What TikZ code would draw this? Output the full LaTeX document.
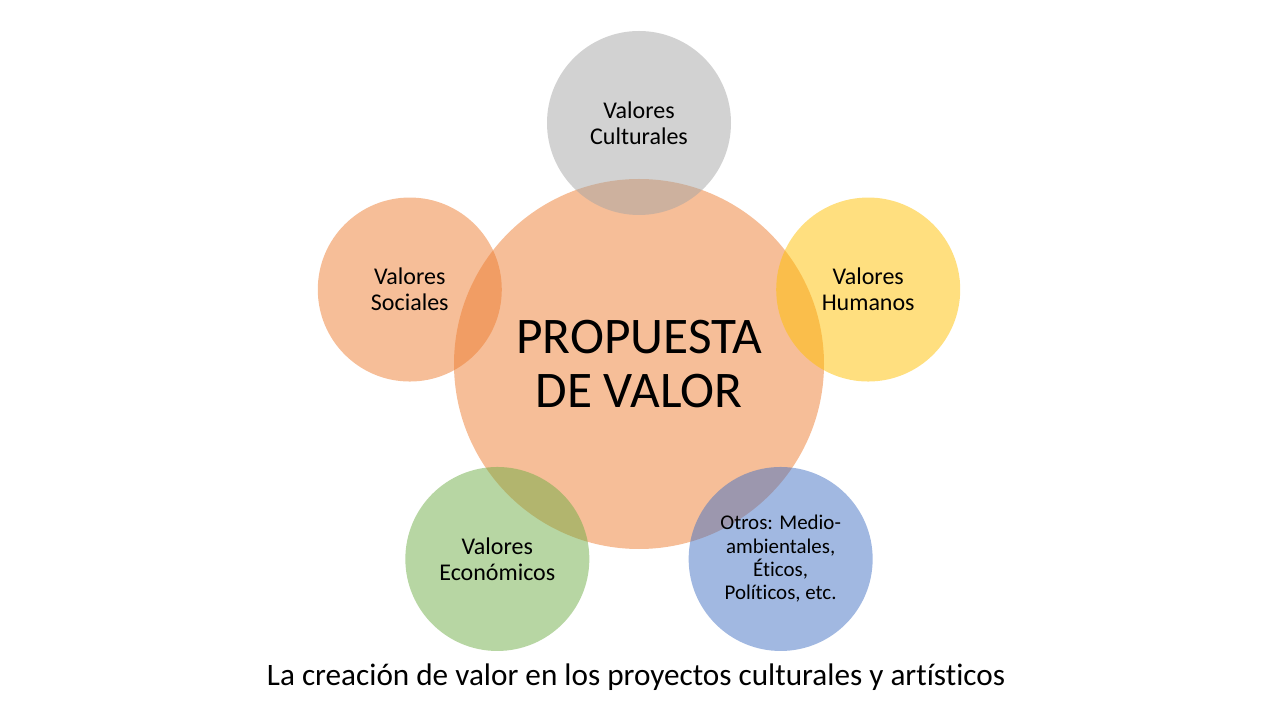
\documentclass[tikz,border=0pt]{standalone}
\usepackage{fontspec}
\setmainfont{Carlito}[Ligatures={NoCommon,NoContextual}]
\definecolor{naranja}{HTML}{ED7D31}
\definecolor{gris}{HTML}{A5A5A5}
\definecolor{amarillo}{HTML}{FFC000}
\definecolor{verde}{HTML}{70AD47}
\definecolor{azul}{HTML}{4472C4}
\begin{document}
\begin{tikzpicture}[x=0.75pt,y=0.75pt,
    valor/.style={circle,inner sep=0pt,minimum size=138pt,fill opacity=0.5,
      text opacity=1,align=center,font=\fontsize{18}{19.8}\selectfont}]
  \useasboundingbox (-639,364) rectangle (641,-356);
  \node (prop) [circle,fill=naranja,fill opacity=0.5,text opacity=1,
    minimum size=277.5pt,align=center,font=\fontsize{38.5}{41}\selectfont]
    {PROPUESTA\\DE VALOR};
  \node (cult) [valor,fill=gris] at (90:241) {Valores\\Culturales};
  \node (soc) [valor,fill=naranja] at (162:241) {Valores\\Sociales};
  \node (hum) [valor,fill=amarillo] at (18:241) {Valores\\Humanos};
  \node (eco) [valor,fill=verde] at (234:241) {Valores\\Económicos};
  \node (otros) [valor,fill=azul,font=\fontsize{15.7}{17.5}\selectfont] at (306:241)
    {Otros: Medio-\\ambientales,\\Éticos,\\Políticos, etc.};
  \node (lema) [anchor=base,font=\fontsize{23.4}{28}\selectfont] at (-3,-321)
    {La creación de valor en los proyectos culturales y artísticos};
\end{tikzpicture}
\end{document}
